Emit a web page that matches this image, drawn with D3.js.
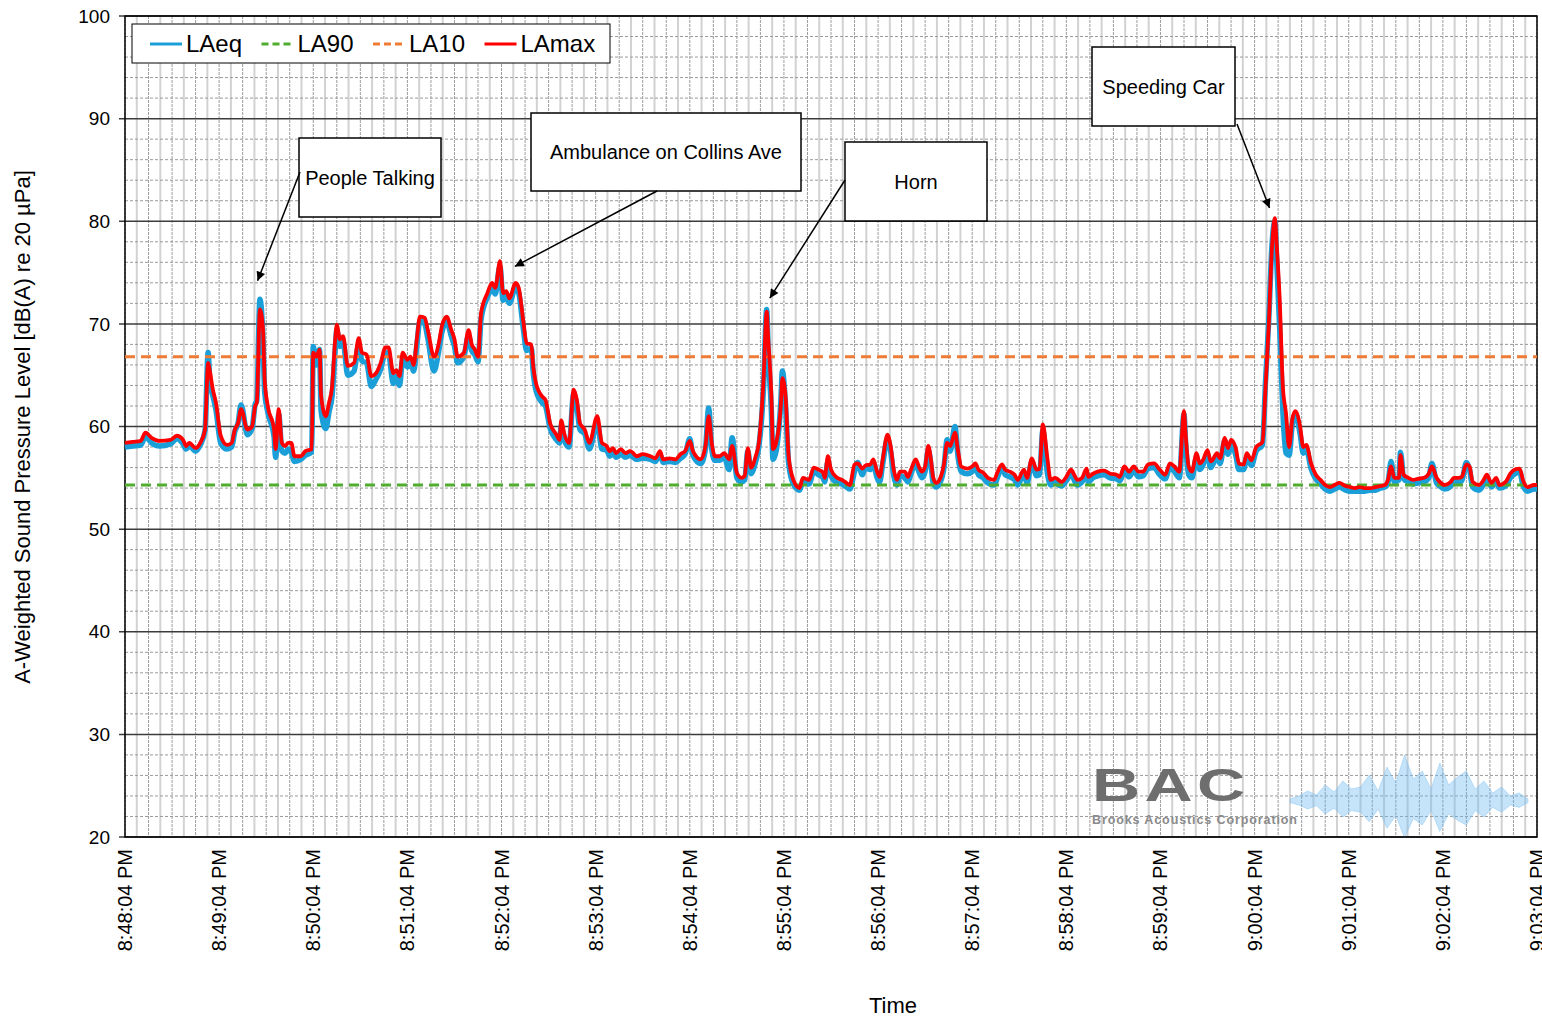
<!DOCTYPE html>
<html>
<head>
<meta charset="utf-8">
<script src="https://cdn.jsdelivr.net/npm/d3@7"></script>
<style>
  body { margin: 0; background: #fff; }
  svg { font-family: "Liberation Sans", Arial, sans-serif; }
</style>
</head>
<body>
<div id="chart"></div>
<script>
// Sound level log, 8:48:04 PM -> 9:03:04 PM, seconds from start
const seconds = [
  0,5,10,13,17,22,29,33,37,39,41,45,48,51,53,54,56,58,
  61,65,68,70,72,74,78,81,83,84,86,88,89,91,95,96,98,100,102,104,106,108,112,115,119,
  120,122,124,125,128,130,132,134,135,137,139,142,146,149,151,154,157,160,163,166,168,171,173,175,177,
  180,182,184,186,188,191,193,197,200,202,205,208,210,212,216,219,221,223,225,227,231,234,236,239,
  241,243,245,249,251,254,256,259,260,262,266,268,271,275,277,278,280,283,286,288,290,293,296,
  301,304,307,309,311,313,316,319,322,324,326,330,335,338,341,343,347,351,354,357,
  360,362,367,370,372,374,376,379,382,385,387,390,393,395,397,399,402,404,407,409,410,412,413,415,418,419,
  421,423,426,430,432,436,439,442,445,446,448,450,454,457,459,462,465,467,470,472,475,477,479,
  481,483,486,488,490,492,494,497,499,501,504,506,508,510,512,514,515,517,520,522,524,526,529,531,533,537,
  540,542,544,547,550,554,556,559,561,564,567,569,573,575,578,581,583,585,588,590,593,595,597,
  600,603,605,607,610,613,614,617,620,624,628,632,634,637,640,643,646,649,652,656,659,
  663,666,669,672,675,676,678,680,683,685,687,690,692,693,696,698,701,703,705,708,710,713,715,718,
  721,725,727,729,731,733,734,736,738,740,742,744,746,749,751,753,756,759,762,765,768,771,774,778,
  781,784,787,790,794,797,800,803,805,807,809,812,813,815,818,821,824,828,831,833,836,838,
  841,845,847,850,852,855,857,859,863,866,868,871,874,876,880,883,886,889,891,894,898,900
];

const lamax = [
  58.4,58.5,58.6,59.4,58.9,58.6,58.7,59.1,58.7,58.1,58.4,57.9,58.4,59.7,66.2,65.5,63.6,62.3,
  59.1,58.2,58.4,59.7,60.3,61.7,59.7,60.0,62.0,62.3,71.4,69.4,64.6,62.0,59.7,57.8,61.7,58.4,58.1,58.4,58.4,57.1,57.1,57.6,57.8,
  67.2,66.8,67.5,63.0,61.0,62.3,63.9,68.5,69.9,68.5,68.8,65.9,66.2,68.6,67.2,67.0,64.9,65.2,66.2,67.7,67.7,65.2,65.5,64.9,67.2,
  66.5,66.8,66.0,68.5,70.7,70.6,69.4,66.8,68.1,69.8,70.7,69.4,68.5,66.8,67.2,69.4,68.0,67.5,66.8,71.1,73.0,74.0,73.5,76.1,
  73.0,73.2,72.5,74.0,73.5,70.1,68.1,68.0,66.2,64.2,62.9,62.6,60.3,59.2,58.7,60.6,59.3,58.4,63.6,62.6,60.3,59.7,58.4,
  61.0,58.4,58.1,57.6,57.9,57.4,57.8,57.4,57.6,57.4,57.1,57.3,57.1,56.9,57.6,56.8,56.9,56.8,57.3,57.6,
  58.6,57.6,56.8,58.1,61.0,58.4,57.1,57.1,57.4,56.8,58.1,55.5,55.0,55.2,57.9,56.0,57.1,58.4,64.6,71.2,68.5,63.0,57.8,58.4,62.0,64.7,
  63.0,57.1,54.8,54.0,55.0,54.8,56.0,55.8,55.5,55.0,57.1,55.8,55.0,54.8,54.6,54.3,56.3,56.4,55.9,56.2,56.3,56.8,55.8,
  55.1,56.8,59.2,58.1,55.8,54.8,55.6,55.6,55.1,55.8,56.8,56.1,55.6,56.1,58.1,56.4,55.1,54.5,55.1,56.3,58.4,58.1,59.4,57.6,56.1,55.9,
  56.1,56.4,55.8,55.5,55.0,54.8,55.5,56.3,55.8,55.6,55.3,54.8,55.8,55.0,56.9,55.8,55.9,60.2,56.8,54.8,55.0,54.8,54.6,
  55.1,55.8,55.3,54.8,55.0,55.9,55.1,55.4,55.6,55.7,55.4,55.3,55.1,56.1,55.6,56.1,55.6,55.6,56.3,56.4,55.9,
  55.3,56.4,56.1,55.6,61.5,59.3,56.1,55.6,57.4,56.4,56.7,57.7,56.6,56.7,57.4,56.9,58.9,57.9,58.7,57.9,56.4,56.3,57.4,56.7,
  58.0,58.5,63.9,69.8,77.2,80.3,77.9,72.4,63.9,61.3,58.0,60.7,61.5,60.0,58.0,58.2,56.4,55.3,54.8,54.3,54.1,54.3,54.5,54.2,
  54.1,54.0,54.1,54.0,54.0,54.1,54.2,54.3,54.8,56.1,55.0,55.0,57.2,55.3,55.0,54.8,54.9,55.0,55.4,56.1,55.0,54.6,
  54.3,54.6,55.0,55.0,55.1,56.3,56.1,54.6,54.3,54.8,55.3,54.5,55.0,54.3,54.6,55.4,55.8,55.9,54.8,54.1,54.3,54.3
];

const laeq = [
  58.0,58.1,58.2,59.0,58.4,58.1,58.3,58.8,58.3,57.8,58.1,57.6,58.2,59.6,67.2,64.6,63.0,61.6,
  58.4,57.8,58.0,59.5,60.3,62.1,59.2,59.8,62.2,62.5,72.4,68.3,63.4,61.4,59.0,57.0,61.2,57.6,57.4,57.8,57.5,56.6,56.8,57.2,57.5,
  67.8,66.0,67.5,61.5,59.8,61.4,63.0,67.5,69.4,67.8,68.2,65.0,65.4,68.0,66.4,66.2,63.9,64.6,65.6,67.2,67.1,64.2,64.9,64.0,66.6,
  65.8,66.3,65.4,67.9,70.3,70.0,68.6,65.4,67.4,69.2,70.2,68.8,67.8,66.2,66.8,68.9,67.4,67.0,66.3,70.5,72.6,73.4,72.9,75.6,
  72.3,72.8,72.0,73.6,73.0,69.4,67.4,67.6,65.6,63.5,62.3,62.0,59.8,58.7,58.4,60.1,58.7,58.0,63.2,62.0,59.7,59.3,57.8,
  60.4,57.8,57.7,57.1,57.5,57.0,57.3,57.0,57.2,57.0,56.8,56.9,56.8,56.6,57.3,56.5,56.6,56.5,56.9,57.3,
  58.8,57.2,56.4,57.8,61.8,57.8,56.7,56.7,57.0,55.8,58.9,55.0,54.6,54.8,57.6,55.4,56.6,58.0,63.8,71.4,67.2,61.5,56.8,57.6,62.4,65.4,
  62.2,56.4,54.4,53.8,54.6,54.4,55.6,55.3,55.0,54.6,56.6,55.2,54.5,54.4,54.2,53.9,55.6,56.5,55.3,56.0,55.8,56.4,55.2,
  54.6,56.4,58.8,57.6,55.2,54.3,55.2,55.0,54.6,55.4,56.4,55.6,55.0,55.6,57.7,55.9,54.6,54.1,54.7,56.0,58.7,57.6,60.0,57.0,55.6,55.4,
  55.6,56.0,55.3,55.0,54.5,54.3,55.0,56.0,55.3,55.1,54.8,54.3,55.4,54.5,56.6,55.2,55.3,59.6,55.4,54.3,54.6,54.3,54.2,
  54.7,55.4,54.8,54.3,54.6,55.5,54.6,55.0,55.2,55.3,55.0,54.9,54.7,55.6,55.1,55.7,55.1,55.2,55.9,56.0,55.4,
  54.9,56.0,55.6,55.0,61.2,58.5,55.3,55.0,57.0,55.8,56.2,57.3,56.0,56.2,57.0,56.4,58.6,57.3,58.2,57.2,55.8,55.8,57.0,56.2,
  57.6,58.2,64.5,70.3,77.5,80.0,76.5,69.5,61.5,57.4,57.2,60.2,61.2,59.3,57.4,57.8,55.9,54.9,54.4,53.9,53.7,53.9,54.1,53.8,
  53.7,53.7,53.7,53.7,53.8,53.8,54.0,54.1,54.5,56.6,54.6,54.8,57.5,54.9,54.6,54.4,54.5,54.6,55.0,56.4,54.5,54.2,
  53.9,54.2,54.7,54.6,54.7,56.5,55.8,54.1,53.8,54.4,55.0,54.1,54.7,54.0,54.2,55.0,55.4,55.6,54.3,53.7,53.9,53.9
];

const la90 = 54.3;
const la10 = 66.8;

const yTicks = [20, 30, 40, 50, 60, 70, 80, 90, 100];
const minuteTicks = d3.range(0, 901, 60);

const seriesNames = ['LAeq', 'LA90', 'LA10', 'LAmax'];
const seriesColors = ['#1a9fd9', '#4fae2f', '#ef7b35', '#ff0000'];

// annotation text, arrow tip (seconds, dB), box in pixels, arrow start in pixels
const notes = [
  {text: 'People Talking', tip: [84.5, 74.2], box: [299, 138, 142, 79], from: [300, 172]},
  {text: 'Ambulance on Collins Ave', tip: [248.5, 75.6], box: [531, 113, 270, 78], from: [657, 191]},
  {text: 'Horn', tip: [411, 72.5], box: [845, 142, 142, 79], from: [845, 180]},
  {text: 'Speeding Car', tip: [729.5, 81.3], box: [1092, 47, 143, 79], from: [1237, 124]}
];

// watermark wave spikes
const waveSpikes = [2,5,10,6,16,9,20,12,14,26,10,34,18,46,22,30,12,38,16,24,30,12,20,8,14,5,8,2];

const width = 1542, height = 1020;
const plot = {left: 125, top: 16, right: 1537, bottom: 837};

const svg = d3.select('#chart').append('svg')
    .attr('width', width)
    .attr('height', height);

svg.append('defs').append('marker')
    .attr('id', 'arrow')
    .attr('viewBox', '0 0 10 10')
    .attr('refX', 10).attr('refY', 5)
    .attr('markerWidth', 10).attr('markerHeight', 9)
    .attr('markerUnits', 'userSpaceOnUse')
    .attr('orient', 'auto')
  .append('path')
    .attr('d', 'M0,0 L10,5 L0,10 Z')
    .attr('fill', '#000');

const x = d3.scaleLinear().domain([0, 900]).range([plot.left, plot.right]);
const y = d3.scaleLinear().domain([20, 100]).range([plot.bottom, plot.top]);

const timeLabel = s => {
  const total = 20 * 3600 + 48 * 60 + 4 + s;
  const h = Math.floor(total / 3600), m = Math.floor(total / 60) % 60, sec = total % 60;
  return `${h - 12}:${String(m).padStart(2, '0')}:${String(sec).padStart(2, '0')} PM`;
};

// grid
const grid = svg.append('g').attr('id', 'grid');
d3.range(0, 901, 7.5).forEach((s, i) => {
  grid.append('line')
    .attr('x1', x(s)).attr('x2', x(s))
    .attr('y1', plot.top).attr('y2', plot.bottom)
    .attr('stroke', i % 2 ? '#d2d2d2' : '#9c9c9c')
    .attr('stroke-width', i % 2 ? 2 : 1)
    .attr('stroke-dasharray', i % 2 ? null : '3 1');
});
d3.range(22, 100, 2).filter(v => v % 10 != 0).forEach(v => {
  grid.append('line')
    .attr('x1', plot.left).attr('x2', plot.right)
    .attr('y1', y(v)).attr('y2', y(v))
    .attr('stroke', '#9a9a9a')
    .attr('stroke-dasharray', '3 2');
});
yTicks.forEach(v => {
  grid.append('line')
    .attr('x1', plot.left - 6).attr('x2', plot.right)
    .attr('y1', y(v)).attr('y2', y(v))
    .attr('stroke', '#3c3c3c')
    .attr('stroke-width', 1.5);
});

// watermark
const wm = svg.append('g').attr('id', 'watermark');
wm.append('text')
    .attr('transform', 'translate(1092,801) scale(1.45,1)')
    .attr('font-size', 46).attr('font-weight', 'bold')
    .attr('letter-spacing', 3)
    .attr('fill', '#6e6e6e')
    .text('BAC');
wm.append('text')
    .attr('x', 1092).attr('y', 824)
    .attr('font-size', 12.5).attr('font-weight', 'bold')
    .attr('fill', '#8a8a8a')
    .attr('textLength', 205)
    .text('Brooks Acoustics Corporation');
const wx = d3.scaleLinear().domain([0, waveSpikes.length - 1]).range([1290, 1528]);
wm.append('path')
    .datum(waveSpikes)
    .attr('d', d3.area()
      .x((d, i) => wx(i))
      .y0(d => 801 + d * 0.8)
      .y1(d => 801 - d)
      .curve(d3.curveLinear))
    .attr('fill', '#6fb8ef')
    .attr('fill-opacity', 0.4)
    .attr('stroke', '#8cc8f3')
    .attr('stroke-opacity', 0.5);

// frame
svg.append('rect')
    .attr('x', plot.left).attr('y', plot.top)
    .attr('width', plot.right - plot.left).attr('height', plot.bottom - plot.top)
    .attr('fill', 'none')
    .attr('stroke', '#000')
    .attr('stroke-width', 1.5);

// axes labels
svg.append('g').selectAll('text')
  .data(yTicks)
  .join('text')
    .attr('x', 110).attr('y', d => y(d))
    .attr('dy', '0.35em')
    .attr('text-anchor', 'end')
    .attr('font-size', 19)
    .text(d => d);

svg.append('g').selectAll('text')
  .data(minuteTicks)
  .join('text')
    .attr('transform', d => `translate(${x(d)},849) rotate(-90)`)
    .attr('dy', '0.35em')
    .attr('text-anchor', 'end')
    .attr('font-size', 20)
    .text(d => timeLabel(d));

svg.append('text')
    .attr('x', 893).attr('y', 1013)
    .attr('text-anchor', 'middle')
    .attr('font-size', 22)
    .text('Time');

svg.append('text')
    .attr('transform', 'translate(30,427) rotate(-90)')
    .attr('text-anchor', 'middle')
    .attr('font-size', 22)
    .text('A-Weighted Sound Pressure Level [dB(A) re 20 µPa]');

// series
const points = seconds.map((s, i) => ({s, eq: laeq[i], max: lamax[i]}));
const lineOf = key => d3.line()
    .x(d => x(d.s))
    .y(d => y(d[key]))
    .curve(d3.curveMonotoneX);

const series = svg.append('g').attr('id', 'series');
series.append('path')
    .datum(points)
    .attr('d', lineOf('eq'))
    .attr('fill', 'none')
    .attr('stroke', seriesColors[0])
    .attr('stroke-width', 5.5)
    .attr('stroke-linejoin', 'round');
[[la90, seriesColors[1]], [la10, seriesColors[2]]].forEach(([v, c]) => {
  series.append('line')
    .attr('x1', x(0)).attr('x2', x(900))
    .attr('y1', y(v)).attr('y2', y(v))
    .attr('stroke', c)
    .attr('stroke-width', 3)
    .attr('stroke-dasharray', '10 6');
});
series.append('path')
    .datum(points)
    .attr('d', lineOf('max'))
    .attr('fill', 'none')
    .attr('stroke', seriesColors[3])
    .attr('stroke-width', 3.8)
    .attr('stroke-linejoin', 'round');

// legend
const legend = svg.append('g').attr('id', 'legend');
legend.append('rect')
    .attr('x', 132).attr('y', 24)
    .attr('width', 478).attr('height', 39)
    .attr('fill', '#fff')
    .attr('stroke', '#000')
    .attr('stroke-width', 1);
seriesNames.forEach((name, i) => {
  const lx = 150 + i * 111.5;
  legend.append('line')
    .attr('x1', lx).attr('x2', lx + 32)
    .attr('y1', 44).attr('y2', 44)
    .attr('stroke', seriesColors[i])
    .attr('stroke-width', 3)
    .attr('stroke-dasharray', (i == 1 || i == 2) ? '7 4' : null);
  legend.append('text')
    .attr('x', lx + 36).attr('y', 52)
    .attr('font-size', 24)
    .text(name);
});

// annotations
const ann = svg.append('g').attr('id', 'annotations');
notes.forEach(n => {
  ann.append('rect')
    .attr('x', n.box[0]).attr('y', n.box[1])
    .attr('width', n.box[2]).attr('height', n.box[3])
    .attr('fill', '#fff')
    .attr('stroke', '#000')
    .attr('stroke-width', 1.5);
  ann.append('text')
    .attr('x', n.box[0] + n.box[2] / 2).attr('y', n.box[1] + n.box[3] / 2)
    .attr('dy', '0.35em')
    .attr('text-anchor', 'middle')
    .attr('font-size', 20)
    .text(n.text);
  ann.append('line')
    .attr('x1', n.from[0]).attr('y1', n.from[1])
    .attr('x2', x(n.tip[0])).attr('y2', y(n.tip[1]))
    .attr('stroke', '#000')
    .attr('stroke-width', 1.5)
    .attr('marker-end', 'url(#arrow)');
});
</script>
</body>
</html>
